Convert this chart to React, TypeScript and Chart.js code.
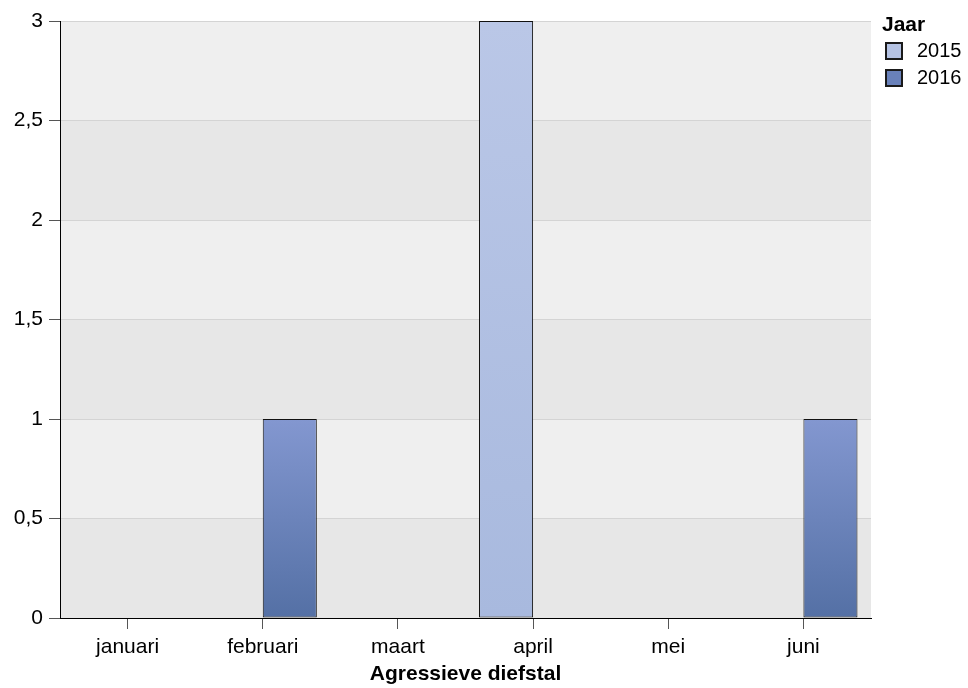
import React, { useEffect, useRef } from "react";
import { Chart, registerables } from "chart.js";

Chart.register(...registerables);

const categories = ["januari", "februari", "maart", "april", "mei", "juni"];
const values2015 = [0, 0, 0, 3, 0, 0];
const values2016 = [0, 1, 0, 0, 0, 1];
const seriesLabels = ["2015", "2016"];
const yTicks = [0, 0.5, 1, 1.5, 2, 2.5, 3];
const legendTitle = "Jaar";
const xTitle = "Agressieve diefstal";

const FONT = "'Liberation Sans', Arial, sans-serif";

const gradients: Record<string, [string, string]> = {
  "2015": ["#bac7e7", "#a8b9de"],
  "2016": ["#8397d0", "#5470a5"],
};
const legendFill: Record<string, string> = {
  "2015": "#b5c3e4",
  "2016": "#6981ba",
};

function barBg(key: string) {
  return (ctx: any) => {
    const chart = ctx.chart;
    const y = chart.scales && chart.scales.y;
    const v = ctx.raw;
    if (!chart.chartArea || !y || typeof v !== "number" || v === 0) return gradients[key][0];
    const top = y.getPixelForValue(v);
    const bottom = y.getPixelForValue(0);
    const g = chart.ctx.createLinearGradient(0, top, 0, bottom);
    g.addColorStop(0, gradients[key][0]);
    g.addColorStop(1, gradients[key][1]);
    return g;
  };
}

const bandsPlugin = {
  id: "bands",
  beforeDraw(chart: any) {
    const { ctx, chartArea, scales } = chart;
    const y = scales.y;
    ctx.save();
    for (let i = 0; i < yTicks.length - 1; i++) {
      const t = y.getPixelForValue(yTicks[i + 1]);
      const b = y.getPixelForValue(yTicks[i]);
      ctx.fillStyle = i % 2 === 0 ? "#e7e7e7" : "#efefef";
      ctx.fillRect(chartArea.left, t, chartArea.right - chartArea.left, b - t);
    }
    ctx.restore();
  },
};

const legendPlugin = {
  id: "customLegend",
  afterDraw(chart: any) {
    const { ctx, chartArea } = chart;
    const x0 = chartArea.right + 11;
    ctx.save();
    ctx.fillStyle = "#000";
    ctx.textBaseline = "middle";
    ctx.textAlign = "left";
    ctx.font = `bold 21px ${FONT}`;
    ctx.fillText(legendTitle, x0, 25);
    ctx.font = `20px ${FONT}`;
    seriesLabels.forEach((s, i) => {
      const cy = 51 + i * 27;
      ctx.fillStyle = legendFill[s];
      ctx.fillRect(x0 + 4, cy - 8, 16, 16);
      ctx.strokeStyle = "#1a1a1a";
      ctx.lineWidth = 2;
      ctx.strokeRect(x0 + 4, cy - 8, 16, 16);
      ctx.fillStyle = "#000";
      ctx.fillText(s, x0 + 35, cy);
    });
    ctx.restore();
  },
};

export default function App() {
  const ref = useRef<HTMLCanvasElement>(null);
  useEffect(() => {
    if (!ref.current) return;
    const chart = new Chart(ref.current, {
      type: "bar",
      data: {
        labels: categories,
        datasets: [
          {
            label: seriesLabels[0],
            data: values2015,
            backgroundColor: barBg("2015"),
            borderColor: "#111",
            borderWidth: (c: any) => (c.raw ? 1 : 0),
            borderSkipped: false,
          },
          {
            label: seriesLabels[1],
            data: values2016,
            backgroundColor: barBg("2016"),
            borderColor: "#111",
            borderWidth: (c: any) => (c.raw ? 1 : 0),
            borderSkipped: false,
          },
        ],
      },
      options: {
        responsive: false,
        animation: false,
        maintainAspectRatio: false,
        categoryPercentage: 0.8,
        barPercentage: 1.0,
        layout: { padding: { left: 0, top: 21, right: 97, bottom: 0 } },
        plugins: {
          legend: { display: false },
          tooltip: { enabled: false },
        },
        scales: {
          x: {
            offset: true,
            grid: {
              offset: false,
              drawOnChartArea: false,
              drawTicks: true,
              tickLength: 11,
              color: "#555",
            },
            border: { color: "#000", width: 1 },
            ticks: {
              color: "#000",
              font: { family: FONT, size: 21 },
              padding: 6,
              maxRotation: 0,
            },
            title: {
              display: true,
              text: xTitle,
              color: "#000",
              font: { family: FONT, size: 21, weight: "bold" },
              padding: { top: 0, bottom: 1 },
            },
            afterFit(scale: any) {
              scale.height = 70;
            },
          },
          y: {
            min: 0,
            max: 3,
            grid: {
              color: "#d4d4d4",
              tickColor: "#555",
              tickLength: 11,
            },
            border: { color: "#000", width: 1 },
            ticks: {
              stepSize: 0.5,
              color: "#000",
              font: { family: FONT, size: 21 },
              padding: 6,
              callback: (v: any) => String(v).replace(".", ","),
            },
            afterFit(scale: any) {
              scale.width = 60;
            },
          },
        },
      },
      plugins: [bandsPlugin, legendPlugin],
    } as any);
    return () => chart.destroy();
  }, []);
  return (
    <div style={{ position: "fixed", left: 0, top: 0, width: 968, height: 688 }}>
      <canvas ref={ref} width={968} height={688} style={{ width: 968, height: 688, display: "block" }} />
    </div>
  );
}
